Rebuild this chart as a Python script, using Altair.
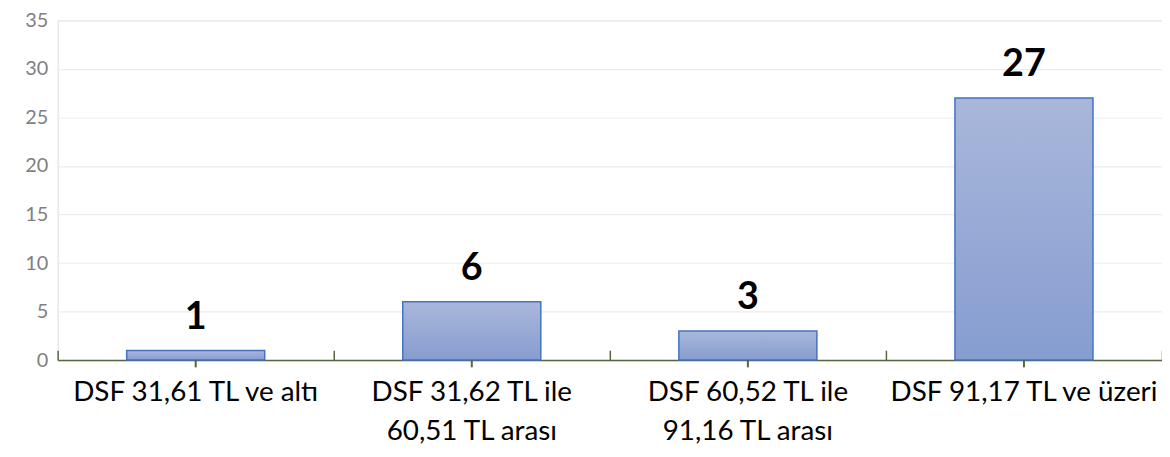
import altair as alt
import pandas as pd

categories = [
    "DSF 31,61 TL ve altı",
    "DSF 31,62 TL ile|60,51 TL arası",
    "DSF 60,52 TL ile|91,16 TL arası",
    "DSF 91,17 TL ve üzeri",
]
values = [1, 6, 3, 27]
y_ticks = [0, 5, 10, 15, 20, 25, 30, 35]

df = pd.DataFrame({"cat": categories, "val": values})

FONT = "Lato"
AXIS_COLOR = "#55673f"

x_scale = alt.Scale(domain=categories, paddingInner=0.5, paddingOuter=0.25)
x_scale_full = alt.Scale(domain=categories, paddingInner=0, paddingOuter=0)
y_scale = alt.Scale(domain=[0, 35], nice=False)

y_axis = alt.Axis(
    values=y_ticks,
    labelFont=FONT,
    labelFontSize=20,
    labelColor="#7f7f7f",
    labelPadding=10,
    domain=False,
    ticks=False,
    gridColor="#ececec",
    gridWidth=1.2,
)

gradient = alt.Gradient(
    gradient="linear",
    stops=[
        alt.GradientStop(color="#a9b7da", offset=0),
        alt.GradientStop(color="#869dd0", offset=1),
    ],
    x1=0, x2=0, y1=0, y2=1,
)

bars = alt.Chart(df).mark_bar(
    fill=gradient, stroke="#4472c4", strokeWidth=1.5
).encode(
    x=alt.X(
        "cat:N",
        scale=x_scale,
        sort=categories,
        title=None,
        axis=alt.Axis(
            orient="bottom",
            labelAngle=0,
            labelExpr="split(datum.value, '|')",
            labelFont=FONT,
            labelFontSize=28,
            labelColor="#000000",
            labelPadding=19,
            labelLineHeight=39,
            labelBaseline="top",
            labelLimit=0,
            domainColor=AXIS_COLOR,
            domainWidth=1.5,
            ticks=False,
            grid=False,
        ),
    ),
    y=alt.Y("val:Q", scale=y_scale, title=None, axis=y_axis),
)

# small tick under the centre of each category, below the axis line
center_ticks = alt.Chart(df).transform_calculate(
    zero="0", below="-0.75"
).mark_rule(color=AXIS_COLOR, strokeWidth=2, clip=False).encode(
    x=alt.X("cat:N", scale=x_scale, sort=categories, title=None, axis=None),
    y=alt.Y("zero:Q", scale=y_scale, title=None, axis=y_axis),
    y2="below:Q",
)

text = alt.Chart(df).mark_text(
    font=FONT, fontSize=38, fontWeight="bold", color="#000000",
    baseline="bottom", dy=-14,
).encode(
    x=alt.X("cat:N", scale=x_scale, sort=categories, title=None, axis=None),
    y=alt.Y("val:Q", scale=y_scale, title=None, axis=y_axis),
    text="val:Q",
)

# boundary ticks (pointing up from the axis line), on a full-step band scale
bounds = alt.Chart(df).mark_point(opacity=0).encode(
    x=alt.X(
        "cat:N",
        scale=x_scale_full,
        sort=categories,
        title=None,
        axis=alt.Axis(
            orient="bottom",
            labels=False,
            domain=False,
            ticks=True,
            tickBand="extent",
            offset=-10,
            tickSize=10,
            tickColor=AXIS_COLOR,
            tickWidth=1.5,
            grid=False,
        ),
    ),
    y=alt.Y("val:Q", scale=y_scale, title=None, axis=y_axis),
)

chart = alt.layer(bars, center_ticks, text, bounds).resolve_scale(
    x="independent"
).resolve_axis(x="independent").properties(
    width=1112,
    height=342,
    autosize=alt.AutoSizeParams(type="none"),
    padding={"left": 50, "top": 11, "right": 0, "bottom": 90},
).configure_view(strokeWidth=0).configure(background="white")

chart.save("out.html", embed_options={"renderer": "svg", "actions": False})
